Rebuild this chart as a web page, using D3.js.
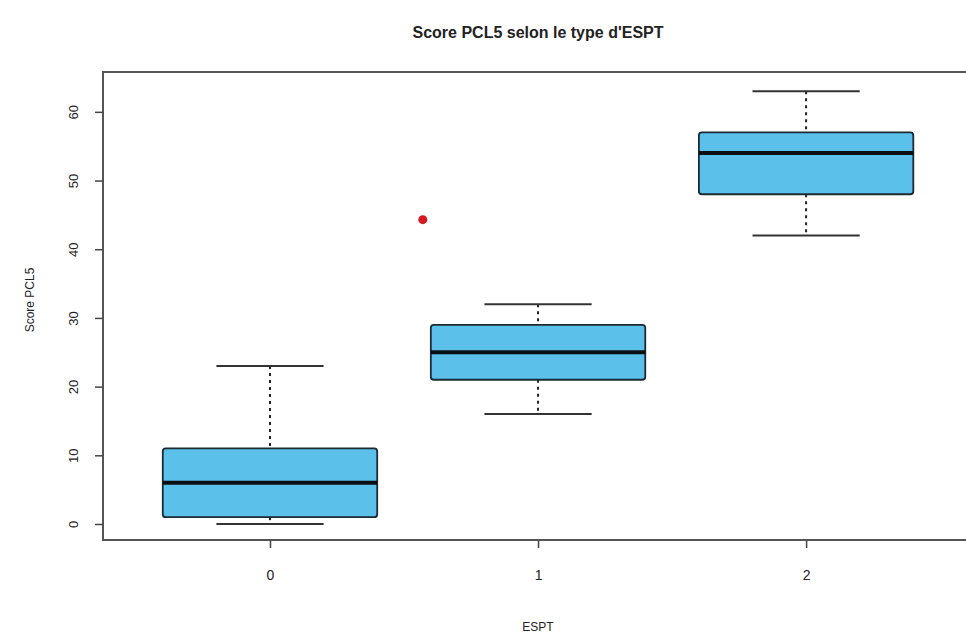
<!DOCTYPE html>
<html>
<head>
<meta charset="utf-8">
<script src="https://cdn.jsdelivr.net/npm/d3@7"></script>
<style>
  body { margin: 0; background: #fff; }
  text { font-family: "Liberation Sans", Arial, sans-serif; fill: #222; }
</style>
</head>
<body>
<svg id="chart" width="966" height="636"></svg>
<script>
// boxplot stats per ESPT group
var groups = [0, 1, 2];
var whiskerLow = [0, 16, 42];
var q1 = [1, 21, 48];
var median = [6, 25, 54];
var q3 = [11, 29, 57];
var whiskerHigh = [23, 32, 63];
// outlier (drawn left of group 1 in the original)
var outlierX = [0.57];
var outlierY = [44.3];
var yTicks = [0, 10, 20, 30, 40, 50, 60];

var svg = d3.select("#chart");

var plotLeft = 103, plotRight = 968, plotTop = 72, plotBottom = 540;

var x = d3.scaleLinear()
    .domain([-0.623, 2.604])
    .range([plotLeft, plotRight]);

var y = d3.scaleLinear()
    .domain([-2.33, 65.8])
    .range([plotBottom, plotTop]);

var boxHalf = 0.4;   // box half width, in x units
var capHalf = 0.2;

// plot frame
svg.append("rect")
    .attr("x", plotLeft)
    .attr("y", plotTop)
    .attr("width", plotRight - plotLeft)
    .attr("height", plotBottom - plotTop)
    .attr("fill", "none")
    .attr("stroke", "#555")
    .attr("stroke-width", 2);

// axes
var leftAxis = d3.axisLeft(y).tickValues(yTicks).tickFormat(d3.format("d")).tickSize(8).tickPadding(22);
var gy = svg.append("g")
    .attr("transform", `translate(${plotLeft}, 0)`)
    .call(leftAxis);
gy.select(".domain").remove();
gy.selectAll(".tick line").attr("stroke", "#444").attr("stroke-width", 1.5);
gy.selectAll(".tick text")
    .attr("font-size", 13)
    .attr("transform", function() {
        var t = d3.select(this);
        return `rotate(-90, ${t.attr("x")}, 0)`;
    })
    .attr("text-anchor", "middle")
    .attr("dy", "0.35em");

var bottomAxis = d3.axisBottom(x).tickValues(groups).tickFormat(d3.format("d")).tickSize(8).tickPadding(22);
var gx = svg.append("g")
    .attr("transform", `translate(0, ${plotBottom})`)
    .call(bottomAxis);
gx.select(".domain").remove();
gx.selectAll(".tick line").attr("stroke", "#444").attr("stroke-width", 1.5);
gx.selectAll(".tick text").attr("font-size", 14);

var boxes = svg.append("g").selectAll("g")
    .data(groups)
    .enter()
    .append("g");

// whiskers (dashed)
boxes.append("line")
    .attr("x1", d => x(d))
    .attr("x2", d => x(d))
    .attr("y1", (d, i) => y(whiskerHigh[i]))
    .attr("y2", (d, i) => y(q3[i]))
    .attr("stroke", "#222")
    .attr("stroke-width", 2)
    .attr("stroke-dasharray", "3,4");

boxes.append("line")
    .attr("x1", d => x(d))
    .attr("x2", d => x(d))
    .attr("y1", (d, i) => y(q1[i]))
    .attr("y2", (d, i) => y(whiskerLow[i]))
    .attr("stroke", "#222")
    .attr("stroke-width", 2)
    .attr("stroke-dasharray", "3,4");

// caps
boxes.append("line")
    .attr("x1", d => x(d - capHalf))
    .attr("x2", d => x(d + capHalf))
    .attr("y1", (d, i) => y(whiskerHigh[i]))
    .attr("y2", (d, i) => y(whiskerHigh[i]))
    .attr("stroke", "#333")
    .attr("stroke-width", 2);

boxes.append("line")
    .attr("x1", d => x(d - capHalf))
    .attr("x2", d => x(d + capHalf))
    .attr("y1", (d, i) => y(whiskerLow[i]))
    .attr("y2", (d, i) => y(whiskerLow[i]))
    .attr("stroke", "#333")
    .attr("stroke-width", 2);

// boxes
boxes.append("rect")
    .attr("x", d => x(d - boxHalf))
    .attr("width", d => x(d + boxHalf) - x(d - boxHalf))
    .attr("y", (d, i) => y(q3[i]))
    .attr("height", (d, i) => y(q1[i]) - y(q3[i]))
    .attr("rx", 3)
    .attr("fill", "#5bc1ea")
    .attr("stroke", "#1c2a33")
    .attr("stroke-width", 1.8);

// medians
boxes.append("line")
    .attr("x1", d => x(d - boxHalf))
    .attr("x2", d => x(d + boxHalf))
    .attr("y1", (d, i) => y(median[i]))
    .attr("y2", (d, i) => y(median[i]))
    .attr("stroke", "#0b0f14")
    .attr("stroke-width", 4);

// outlier
svg.selectAll(".outlier")
    .data(outlierX)
    .enter()
    .append("circle")
    .attr("class", "outlier")
    .attr("cx", d => x(d))
    .attr("cy", (d, i) => y(outlierY[i]))
    .attr("r", 4.5)
    .attr("fill", "#d81820");

// titles
svg.append("text")
    .attr("x", 538)
    .attr("y", 38)
    .attr("text-anchor", "middle")
    .attr("font-size", 16)
    .attr("font-weight", "bold")
    .text("Score PCL5 selon le type d'ESPT");

svg.append("text")
    .attr("x", 538)
    .attr("y", 631)
    .attr("text-anchor", "middle")
    .attr("font-size", 12)
    .text("ESPT");

svg.append("text")
    .attr("transform", "rotate(-90)")
    .attr("x", -300)
    .attr("y", 34)
    .attr("text-anchor", "middle")
    .attr("font-size", 12)
    .text("Score PCL5");
</script>
</body>
</html>
